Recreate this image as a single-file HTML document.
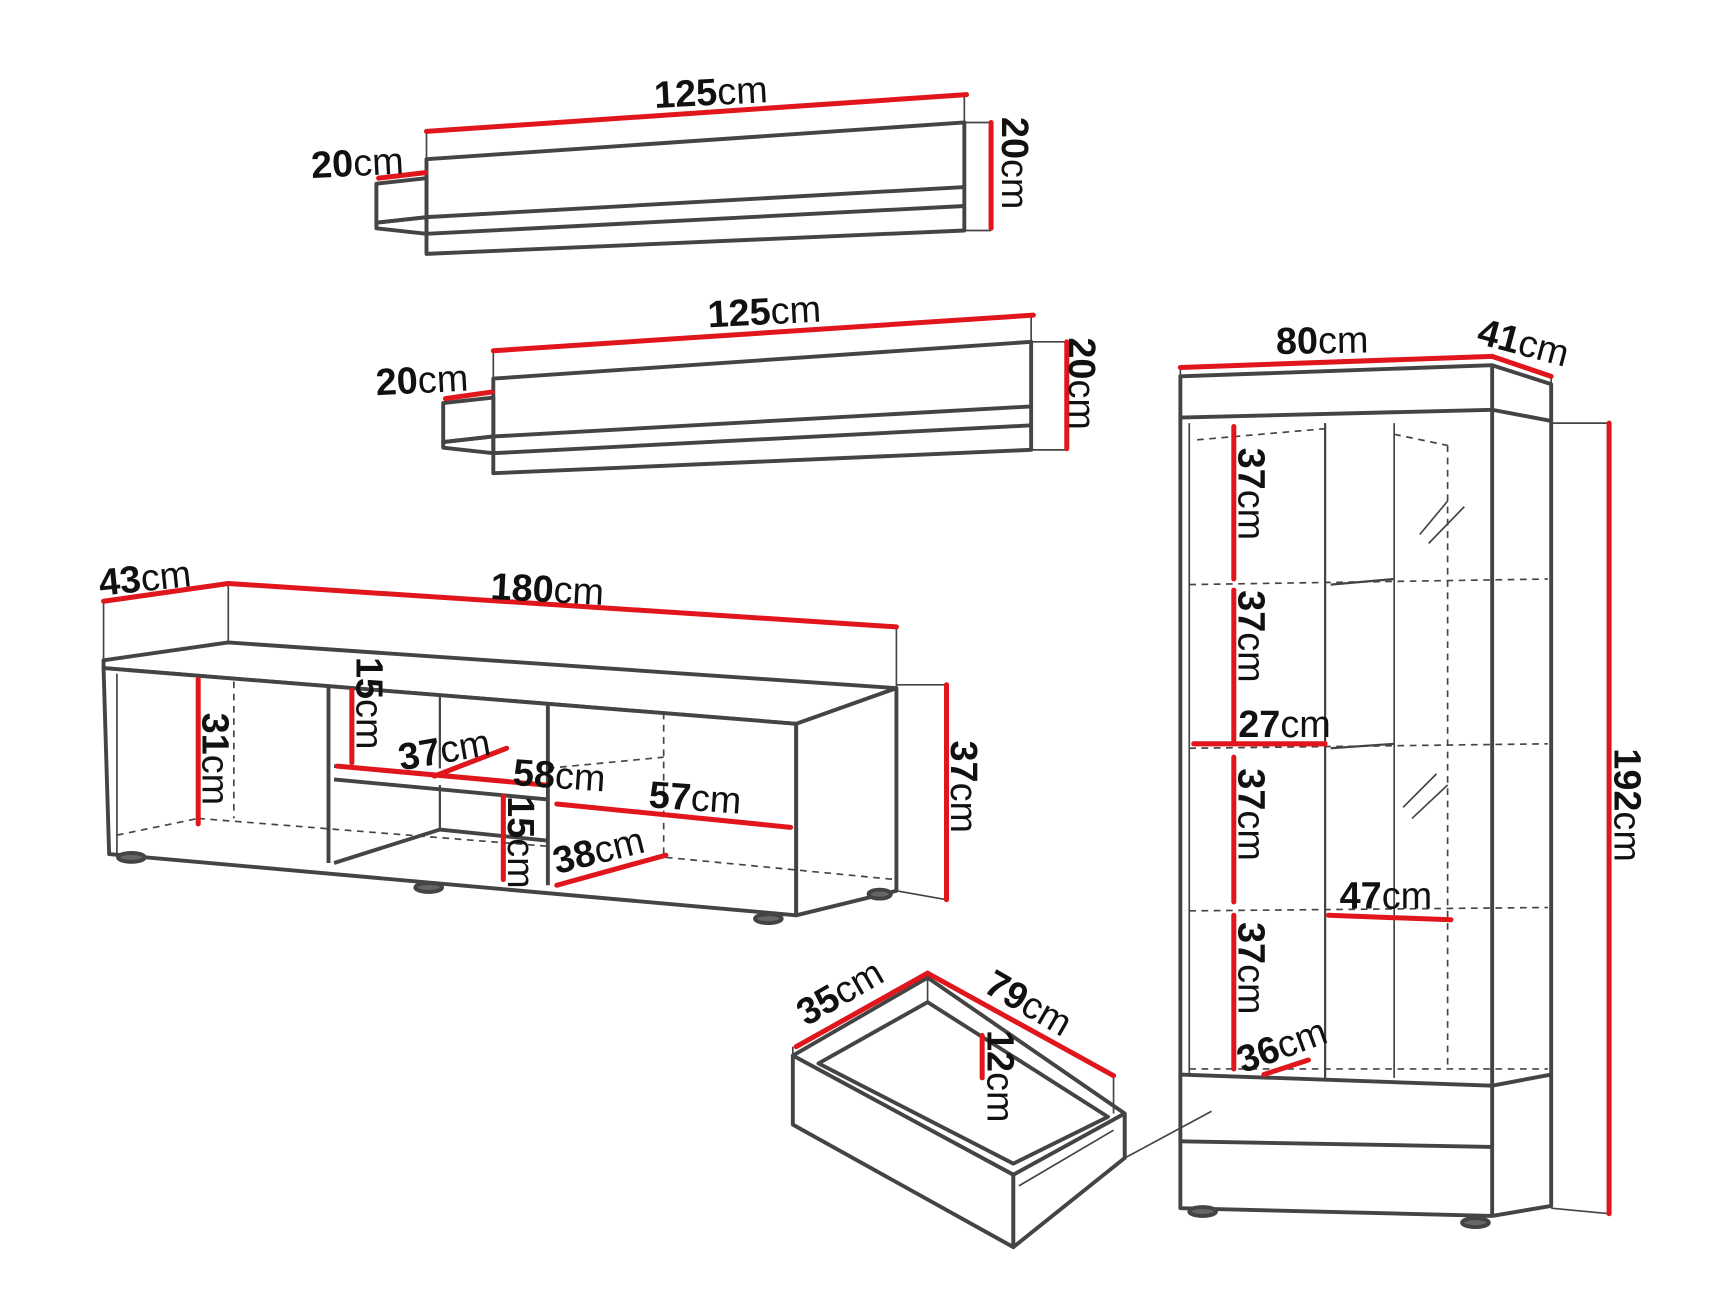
<!DOCTYPE html>
<html><head><meta charset="utf-8"><style>
html,body{margin:0;padding:0;background:#fff;}
svg{display:block;}
text{font-family:"Liberation Sans",sans-serif;font-size:34px;fill:#111;}
.b{font-weight:bold;}
</style></head><body>
<svg width="1726" height="1295" viewBox="0 0 1550 1163" preserveAspectRatio="none" xmlns="http://www.w3.org/2000/svg">
<rect x="0" y="0" width="1550" height="1163" fill="#fff"/>
<g fill="none" stroke="#444" stroke-width="3.5" stroke-linejoin="round">
<!-- shelf 1 -->
<polygon points="383,143 866,110 866,207 383,228" fill="#fff"/>
<polygon points="338,165 383,160 383,195 338,200" fill="#fff"/>
<polygon points="338,200 383,195 383,210 338,205"/>
<line x1="383" y1="195" x2="866" y2="168"/>
<line x1="383" y1="210" x2="866" y2="185"/>
<line x1="866" y1="110" x2="890" y2="110" stroke-width="1.5"/>
<line x1="866" y1="207" x2="890" y2="207" stroke-width="1.5"/>
<line x1="383" y1="118" x2="383" y2="143" stroke-width="1.5"/>
<line x1="866" y1="85" x2="866" y2="110" stroke-width="1.5"/>
<!-- shelf 2 -->
<polygon points="443,340 926,307 926,404 443,425" fill="#fff"/>
<polygon points="398,362 443,357 443,392 398,397" fill="#fff"/>
<polygon points="398,397 443,392 443,407 398,402"/>
<line x1="443" y1="392" x2="926" y2="365"/>
<line x1="443" y1="407" x2="926" y2="382"/>
<line x1="926" y1="307" x2="958" y2="307" stroke-width="1.5"/>
<line x1="926" y1="404" x2="958" y2="404" stroke-width="1.5"/>
<line x1="443" y1="315" x2="443" y2="340" stroke-width="1.5"/>
<line x1="926" y1="283" x2="926" y2="307" stroke-width="1.5"/>
<!-- TV unit -->
<polygon points="93,593 205,577 805,618 715,650 93,600" fill="#fff"/>
<polygon points="93,600 715,650 715,822 98,767" fill="#fff"/>
<polygon points="715,650 805,618 805,800 715,822" fill="#fff"/>
<line x1="93" y1="540" x2="93" y2="593" stroke-width="1.5"/>
<line x1="205" y1="524" x2="205" y2="577" stroke-width="1.5"/>
<line x1="805" y1="563" x2="805" y2="618" stroke-width="1.5"/>
<line x1="805" y1="615" x2="850" y2="615" stroke-width="1.5"/>
<line x1="805" y1="800" x2="850" y2="808" stroke-width="1.5"/>
<line x1="105" y1="605" x2="105" y2="768" stroke-width="1.5"/>
<line x1="295" y1="615" x2="295" y2="775"/>
<line x1="395" y1="625" x2="395" y2="690" stroke-width="2"/>
<line x1="395" y1="705" x2="395" y2="745" stroke-width="2"/>
<line x1="492" y1="632" x2="492" y2="795"/>
<line x1="300" y1="688" x2="492" y2="705"/>
<line x1="300" y1="700" x2="492" y2="718"/>
<line x1="395" y1="745" x2="492" y2="755"/>
<line x1="300" y1="775" x2="395" y2="745"/>
<g stroke-dasharray="6,5" stroke-width="1.5">
<line x1="210" y1="612" x2="210" y2="735"/>
<line x1="596" y1="640" x2="596" y2="770"/>
<line x1="105" y1="750" x2="178" y2="735"/>
<line x1="178" y1="735" x2="492" y2="760"/>
<line x1="598" y1="770" x2="805" y2="790"/>
<line x1="492" y1="690" x2="596" y2="680"/>
</g>
<ellipse cx="118" cy="770" rx="12" ry="4" fill="#666"/>
<ellipse cx="385" cy="797" rx="12" ry="4" fill="#666"/>
<ellipse cx="690" cy="825" rx="12" ry="4" fill="#666"/>
<ellipse cx="790" cy="803" rx="10" ry="4" fill="#666"/>
<!-- Cabinet -->
<polygon points="1060,338 1340,328 1393,345 1393,1083 1340,1092 1060,1085" fill="#fff"/>
<line x1="1060" y1="375" x2="1340" y2="368"/>
<line x1="1340" y1="368" x2="1393" y2="378"/>
<line x1="1340" y1="328" x2="1340" y2="1092"/>
<line x1="1068" y1="380" x2="1068" y2="965" stroke-width="1.5"/>
<line x1="1190" y1="380" x2="1190" y2="968" stroke-width="2"/>
<line x1="1252" y1="380" x2="1252" y2="968" stroke-width="1.5"/>
<line x1="1060" y1="965" x2="1340" y2="975"/>
<line x1="1060" y1="1025" x2="1340" y2="1030"/>
<line x1="1340" y1="975" x2="1393" y2="965"/>
<line x1="1060" y1="330" x2="1060" y2="338" stroke-width="1.5"/>
<line x1="1393" y1="338" x2="1393" y2="345" stroke-width="1.5"/>
<line x1="1393" y1="380" x2="1445" y2="380" stroke-width="1.5"/>
<line x1="1393" y1="1085" x2="1445" y2="1090" stroke-width="1.5"/>
<g stroke-dasharray="6,5" stroke-width="1.5">
<line x1="1075" y1="395" x2="1190" y2="385"/>
<line x1="1252" y1="390" x2="1300" y2="400"/>
<line x1="1300" y1="400" x2="1300" y2="960"/>
<line x1="1068" y1="525" x2="1390" y2="520"/>
<line x1="1068" y1="672" x2="1390" y2="668"/>
<line x1="1068" y1="818" x2="1390" y2="815"/>
<line x1="1068" y1="960" x2="1390" y2="960"/>
</g>
<line x1="1195" y1="525" x2="1252" y2="520" stroke-width="2"/>
<line x1="1195" y1="672" x2="1252" y2="668" stroke-width="2"/>
<line x1="1275" y1="480" x2="1300" y2="450" stroke-width="1.5"/>
<line x1="1283" y1="488" x2="1315" y2="455" stroke-width="1.5"/>
<line x1="1260" y1="725" x2="1290" y2="695" stroke-width="1.5"/>
<line x1="1268" y1="735" x2="1300" y2="705" stroke-width="1.5"/>
<ellipse cx="1080" cy="1088" rx="12" ry="4" fill="#666"/>
<ellipse cx="1325" cy="1098" rx="12" ry="4" fill="#666"/>
<!-- Drawer -->
<polygon points="712,948 833,878 1010,1000 1010,1040 910,1055 712,948" fill="#fff"/>
<polygon points="735,955 833,900 995,1003 910,1045" fill="#fff"/>
<polygon points="712,948 910,1055 910,1120 712,1010" fill="#fff"/>
<polygon points="910,1055 1010,1000 1010,1040 910,1120" fill="#fff"/>
<line x1="915" y1="1065" x2="1000" y2="1015" stroke-width="1.5"/>
<line x1="1010" y1="1040" x2="1088" y2="998" stroke-width="1.5"/>
<line x1="833" y1="878" x2="833" y2="900" stroke-width="1.5"/>
<line x1="712" y1="940" x2="712" y2="948" stroke-width="1.5"/>
<line x1="1000" y1="966" x2="1000" y2="1000" stroke-width="1.5"/>
</g>
<!-- red dims -->
<g stroke="#e0161c" stroke-width="4.5" stroke-linecap="round" fill="none">
<line x1="383" y1="118" x2="868" y2="85"/>
<line x1="340" y1="160" x2="382" y2="155"/>
<line x1="890" y1="110" x2="890" y2="205"/>
<line x1="443" y1="315" x2="928" y2="283"/>
<line x1="400" y1="358" x2="442" y2="352"/>
<line x1="958" y1="307" x2="958" y2="403"/>
<line x1="93" y1="540" x2="205" y2="524"/>
<line x1="205" y1="524" x2="805" y2="563"/>
<line x1="850" y1="615" x2="850" y2="808"/>
<line x1="178" y1="610" x2="178" y2="740"/>
<line x1="316" y1="620" x2="316" y2="685"/>
<line x1="303" y1="688" x2="490" y2="705"/>
<line x1="390" y1="697" x2="455" y2="672"/>
<line x1="500" y1="722" x2="710" y2="743"/>
<line x1="452" y1="715" x2="452" y2="790"/>
<line x1="500" y1="795" x2="598" y2="768"/>
<line x1="1060" y1="330" x2="1340" y2="320"/>
<line x1="1340" y1="320" x2="1393" y2="338"/>
<line x1="1445" y1="380" x2="1445" y2="1090"/>
<line x1="1108" y1="383" x2="1108" y2="520"/>
<line x1="1108" y1="530" x2="1108" y2="665"/>
<line x1="1108" y1="680" x2="1108" y2="810"/>
<line x1="1108" y1="822" x2="1108" y2="960"/>
<line x1="1072" y1="668" x2="1190" y2="668"/>
<line x1="1193" y1="822" x2="1303" y2="826"/>
<line x1="1135" y1="965" x2="1175" y2="952"/>
<line x1="715" y1="940" x2="833" y2="874"/>
<line x1="833" y1="874" x2="1000" y2="966"/>
<line x1="882" y1="930" x2="882" y2="968"/>
</g>
<!-- labels -->
<text x="588" y="97" transform="rotate(-3 588 97)"><tspan class="b">125</tspan>cm</text>
<text x="280" y="160" transform="rotate(-3 280 160)"><tspan class="b">20</tspan>cm</text>
<text x="900" y="105" transform="rotate(90 900 105)"><tspan class="b">20</tspan>cm</text>
<text x="636" y="294" transform="rotate(-3 636 294)"><tspan class="b">125</tspan>cm</text>
<text x="338" y="355" transform="rotate(-3 338 355)"><tspan class="b">20</tspan>cm</text>
<text x="960" y="303" transform="rotate(90 960 303)"><tspan class="b">20</tspan>cm</text>
<text x="90" y="535" transform="rotate(-6 90 535)"><tspan class="b">43</tspan>cm</text>
<text x="440" y="538" transform="rotate(3 440 538)"><tspan class="b">180</tspan>cm</text>
<text x="854" y="665" transform="rotate(90 854 665)"><tspan class="b">37</tspan>cm</text>
<text x="182" y="640" transform="rotate(90 182 640)"><tspan class="b">31</tspan>cm</text>
<text x="320" y="590" transform="rotate(90 320 590)"><tspan class="b">15</tspan>cm</text>
<text x="360" y="692" transform="rotate(-10 360 692)"><tspan class="b">37</tspan>cm</text>
<text x="460" y="705" transform="rotate(4 460 705)"><tspan class="b">58</tspan>cm</text>
<text x="582" y="725" transform="rotate(4 582 725)"><tspan class="b">57</tspan>cm</text>
<text x="456" y="715" transform="rotate(90 456 715)"><tspan class="b">15</tspan>cm</text>
<text x="500" y="785" transform="rotate(-14 500 785)"><tspan class="b">38</tspan>cm</text>
<text x="1146" y="318" transform="rotate(-1 1146 318)"><tspan class="b">80</tspan>cm</text>
<text x="1325" y="308" transform="rotate(15 1325 308)"><tspan class="b">41</tspan>cm</text>
<text x="1450" y="672" transform="rotate(90 1450 672)"><tspan class="b">192</tspan>cm</text>
<text x="1112" y="402" transform="rotate(90 1112 402)"><tspan class="b">37</tspan>cm</text>
<text x="1112" y="530" transform="rotate(90 1112 530)"><tspan class="b">37</tspan>cm</text>
<text x="1112" y="690" transform="rotate(90 1112 690)"><tspan class="b">37</tspan>cm</text>
<text x="1112" y="828" transform="rotate(90 1112 828)"><tspan class="b">37</tspan>cm</text>
<text x="1112" y="662"><tspan class="b">27</tspan>cm</text>
<text x="1203" y="816"><tspan class="b">47</tspan>cm</text>
<text x="1116" y="964" transform="rotate(-20 1116 964)"><tspan class="b">36</tspan>cm</text>
<text x="724" y="922" transform="rotate(-30 724 922)"><tspan class="b">35</tspan>cm</text>
<text x="882" y="890" transform="rotate(30 882 890)"><tspan class="b">79</tspan>cm</text>
<text x="887" y="925" transform="rotate(90 887 925)"><tspan class="b">12</tspan>cm</text>
</svg>
</body></html>
